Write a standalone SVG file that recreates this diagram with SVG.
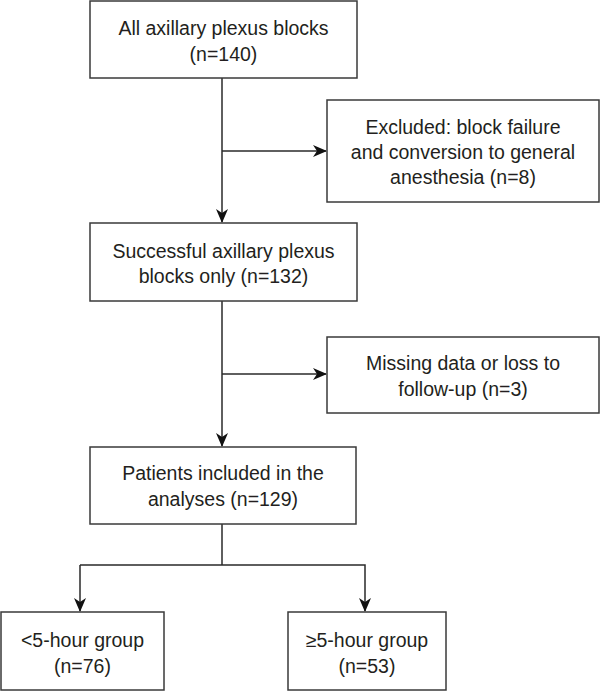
<svg xmlns="http://www.w3.org/2000/svg" width="600" height="691" viewBox="0 0 600 691">
<style>
.box{fill:#fff;stroke:#3a3a3a;stroke-width:1.5}
.t{font-family:"Liberation Sans",Arial,sans-serif;font-size:19.5px;fill:#231f20;text-anchor:middle}
.c{fill:none;stroke:#2a2a2a;stroke-width:1.5}
</style>
<defs>
<marker id="ah" markerWidth="14" markerHeight="12" viewBox="0 0 14 12" refX="13" refY="6" orient="auto" markerUnits="userSpaceOnUse">
<path d="M0,0 L14,6 L0,12 L4,6 Z" fill="#111"/>
</marker>
</defs>
<rect width="600" height="691" fill="#fff"/>
<g id="connectors">
<line class="c" x1="222" y1="78" x2="222" y2="222" marker-end="url(#ah)"/>
<line class="c" x1="222" y1="151" x2="326" y2="151" marker-end="url(#ah)"/>
<line class="c" x1="222" y1="301" x2="222" y2="446" marker-end="url(#ah)"/>
<line class="c" x1="222" y1="374" x2="326" y2="374" marker-end="url(#ah)"/>
<line class="c" x1="222" y1="524" x2="222" y2="565"/>
<polyline class="c" points="80,565 365,565 365,611" marker-end="url(#ah)"/>
<line class="c" x1="80" y1="565" x2="80" y2="611" marker-end="url(#ah)"/>
</g>
<g id="n1">
<rect class="box" x="90" y="1" width="267" height="77"/>
<text class="t" x="223.5" y="35">All axillary plexus blocks</text>
<text class="t" x="223.5" y="61">(n=140)</text>
</g>
<g id="n2">
<rect class="box" x="327" y="100" width="272" height="102"/>
<text class="t" x="463" y="134">Excluded: block failure</text>
<text class="t" x="463" y="159">and conversion to general</text>
<text class="t" x="463" y="184">anesthesia (n=8)</text>
</g>
<g id="n3">
<rect class="box" x="90" y="223" width="267" height="78"/>
<text class="t" x="223.5" y="258">Successful axillary plexus</text>
<text class="t" x="223.5" y="283">blocks only (n=132)</text>
</g>
<g id="n4">
<rect class="box" x="327" y="337" width="272" height="76"/>
<text class="t" x="463" y="370">Missing data or loss to</text>
<text class="t" x="463" y="396">follow-up (n=3)</text>
</g>
<g id="n5">
<rect class="box" x="90" y="447" width="266" height="77"/>
<text class="t" x="223" y="480">Patients included in the</text>
<text class="t" x="223" y="506">analyses (n=129)</text>
</g>
<g id="n6">
<rect class="box" x="1" y="612" width="163" height="78"/>
<text class="t" x="82.5" y="647">&lt;5-hour group</text>
<text class="t" x="82.5" y="673">(n=76)</text>
</g>
<g id="n7">
<rect class="box" x="288" y="612" width="158" height="78"/>
<text class="t" x="367" y="647">≥5-hour group</text>
<text class="t" x="367" y="673">(n=53)</text>
</g>
</svg>
